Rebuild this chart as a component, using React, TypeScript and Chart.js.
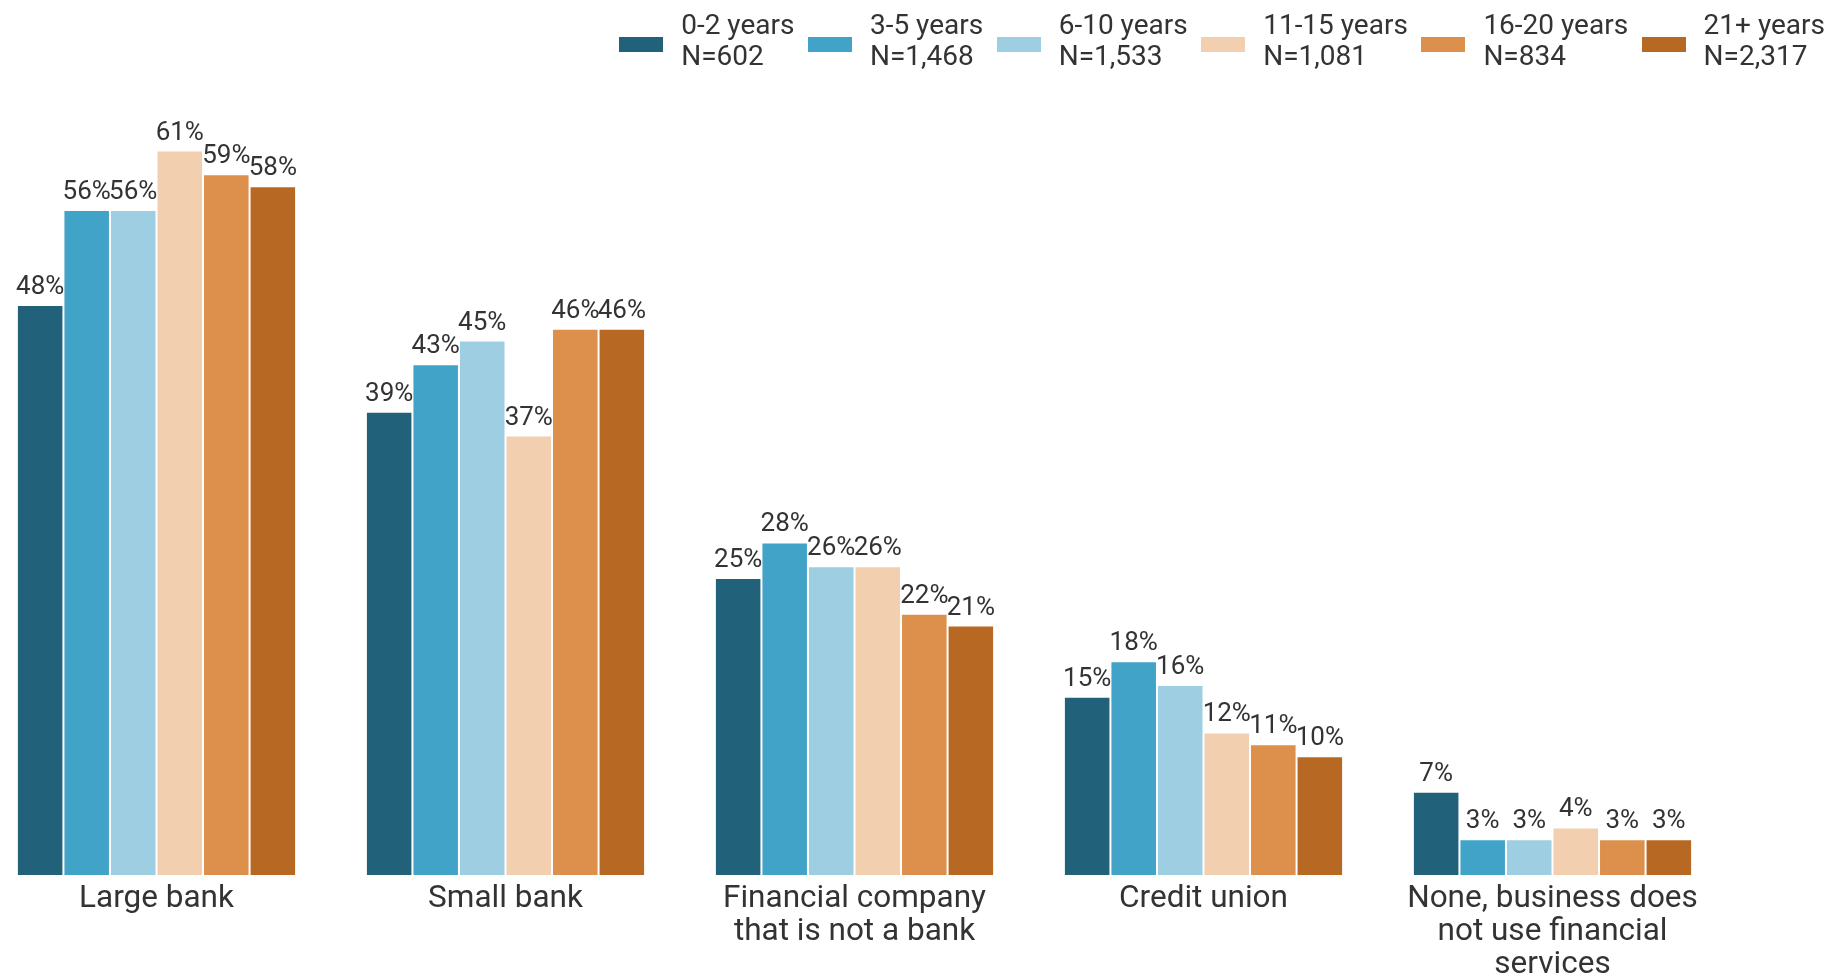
import React, { useEffect, useRef } from "react";
import { Chart, registerables } from "chart.js";

Chart.register(...registerables);

const categories: (string | string[])[] = [
  "Large bank",
  "Small bank",
  ["Financial company", "that is not a bank"],
  "Credit union",
  ["None, business does", "not use financial", "services"],
];

const seriesNames = ["0-2 years", "3-5 years", "6-10 years", "11-15 years", "16-20 years", "21+ years"];
const seriesN = ["N=602", "N=1,468", "N=1,533", "N=1,081", "N=834", "N=2,317"];
const seriesColors = ["#22617a", "#42a3c8", "#9ecee1", "#f2cfae", "#dd8f4c", "#b76822"];

const years0to2 = [48, 39, 25, 15, 7];
const years3to5 = [56, 43, 28, 18, 3];
const years6to10 = [56, 45, 26, 16, 3];
const years11to15 = [61, 37, 26, 12, 4];
const years16to20 = [59, 46, 22, 11, 3];
const years21plus = [58, 46, 21, 10, 3];

const seriesValues = [years0to2, years3to5, years6to10, years11to15, years16to20, years21plus];

const FONT = "Roboto, 'Noto Sans', sans-serif";

const valueLabels = {
  id: "valueLabels",
  afterDatasetsDraw(chart: any) {
    const ctx = chart.ctx;
    ctx.save();
    ctx.font = `26px ${FONT}`;
    ctx.fillStyle = "#333333";
    ctx.textAlign = "center";
    ctx.textBaseline = "alphabetic";
    chart.data.datasets.forEach((ds: any, i: number) => {
      const meta = chart.getDatasetMeta(i);
      meta.data.forEach((bar: any, j: number) => {
        ctx.fillText(`${ds.data[j]}%`, bar.x, bar.y - 11);
      });
    });
    ctx.restore();
  },
};

export default function App() {
  const ref = useRef<HTMLCanvasElement | null>(null);

  useEffect(() => {
    if (!ref.current) return;
    const chart = new Chart(ref.current, {
      type: "bar",
      data: {
        labels: categories as any,
        datasets: seriesNames.map((name, i) => ({
          label: name,
          data: seriesValues[i],
          backgroundColor: seriesColors[i],
          borderColor: "rgba(255,255,255,0.7)",
          borderWidth: 1,
          categoryPercentage: 0.8,
          barPercentage: 1.0,
        })),
      },
      options: {
        responsive: false,
        animation: false,
        layout: { padding: { top: 103, right: 105, left: 0, bottom: 0 } },
        plugins: {
          legend: { display: false },
          tooltip: { enabled: false },
        },
        scales: {
          x: {
            grid: { display: false, drawTicks: false },
            border: { display: false },
            ticks: {
              color: "#333333",
              font: { family: FONT, size: 31.5, lineHeight: 1.04 },
              padding: 8,
              maxRotation: 0,
              autoSkip: false,
            },
            afterFit: (scale: any) => {
              scale.height = 100;
            },
          },
          y: {
            display: false,
            min: 0,
            max: 65,
          },
        },
      },
      plugins: [valueLabels],
    });
    return () => chart.destroy();
  }, []);

  return (
    <div style={{ position: "fixed", left: 0, top: 0, width: 1832, height: 975, background: "#fff", overflow: "hidden", fontFamily: FONT }}>
      <canvas ref={ref} width={1850} height={975} style={{ position: "absolute", left: -18, top: 0, width: 1850, height: 975 }} />
      <div
        style={{
          position: "absolute",
          right: 7,
          top: 9,
          display: "flex",
          flexDirection: "row",
          gap: 13.5,
          color: "#333333",
          fontSize: 28,
          lineHeight: "31px",
        }}
      >
        {seriesNames.map((name, i) => (
          <div key={name} style={{ display: "flex", flexDirection: "row", alignItems: "flex-start" }}>
            <div style={{ width: 44, height: 15, marginTop: 28, marginRight: 18, background: seriesColors[i] }} />
            <div style={{ whiteSpace: "nowrap" }}>
              <div>{name}</div>
              <div>{seriesN[i]}</div>
            </div>
          </div>
        ))}
      </div>
    </div>
  );
}
